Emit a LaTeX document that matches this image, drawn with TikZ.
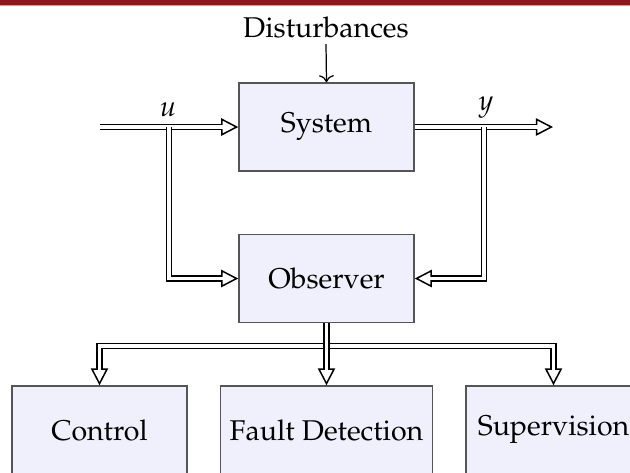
\documentclass[tikz,border=0pt]{standalone}
\usepackage[T1]{fontenc}
\usepackage{mathpazo}
\usetikzlibrary{arrows.meta}
\definecolor{boxfill}{RGB}{240,240,252}
\definecolor{boxdraw}{RGB}{85,85,85}
\definecolor{barred}{RGB}{140,24,30}
\definecolor{barpink}{RGB}{215,150,155}
\begin{document}
\begin{tikzpicture}[x=0.364pt,y=-0.364pt,
  blk/.style={draw=boxdraw, fill=boxfill, line width=0.55pt, minimum width=63.7pt, minimum height=32pt, inner sep=3.3pt, font=\fontsize{10.4}{12}\selectfont},
  lbl/.style={inner sep=0pt, font=\fontsize{10.4}{12}\selectfont},
  dbl/.style={draw=black, line width=2.4pt, -{Triangle[fill=white, length=6.2pt, width=6.3pt, line width=0.55pt]}, postaction={draw=white, line width=1.2pt, -, shorten >=3.4pt}},
  distarrow/.style={line width=0.45pt, ->}
]
\useasboundingbox (0,0) rectangle (630,472);
\clip (0,0) rectangle (630,472);
\fill[barred] (0,0) rectangle (630,4.5);
\fill[barpink] (0,4.5) rectangle (630,5.5);

\node[blk] (sys) at (326.5,127) {System};
\node[blk] (obs) at (326.5,278.5) {Observer};
\node[blk] (ctrl) at (99.5,430) {Control};
\node[blk] (fd) at (326.5,430) {Fault Detection};
\node[blk] (sup) at (553.5,430) {Supervision};

\node[lbl, anchor=base] (dist) at (326,37) {Disturbances};
\node[lbl, anchor=base] (ul) at (168,116) {$u$};
\node[lbl, anchor=base] (yl) at (486,110) {$y$};

\coordinate (uin) at (100,127);
\coordinate (ub) at (169,127);
\coordinate (yout) at (553,127);
\coordinate (yb) at (484,127);
\coordinate (bj) at (326.5,346);

\draw[distarrow] (326,44) -- (sys.north);

\draw[dbl] (uin) -- (sys.west);
\draw[dbl] (ub) |- (obs.west);
\draw[dbl] (sys.east) -- (yout);
\draw[dbl] (yb) |- (obs.east);

\draw[dbl] (obs.south) -- (bj) -| (ctrl.north);
\draw[dbl] (obs.south) -- (bj) -| (sup.north);
\draw[dbl] (obs.south) -- (fd.north);
\end{tikzpicture}
\end{document}
